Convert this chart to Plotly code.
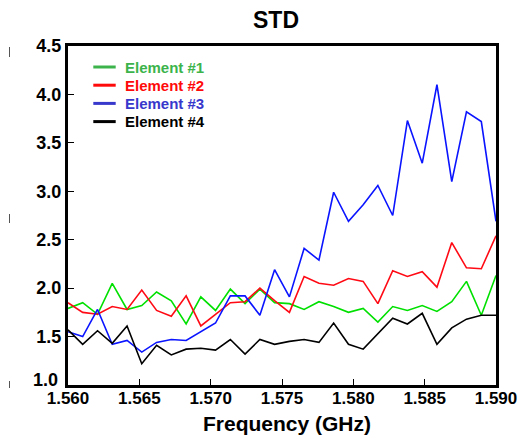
import plotly.graph_objects as go

freq = [1.56000, 1.56103, 1.56207, 1.56310, 1.56414, 1.56517, 1.56621, 1.56724,
        1.56828, 1.56931, 1.57034, 1.57138, 1.57241, 1.57345, 1.57448, 1.57552,
        1.57655, 1.57759, 1.57862, 1.57966, 1.58069, 1.58172, 1.58276, 1.58379,
        1.58483, 1.58586, 1.58690, 1.58793, 1.58897, 1.59000]

element1 = [1.79, 1.85, 1.73, 2.05, 1.78, 1.82, 1.96, 1.87, 1.63, 1.91,
            1.77, 1.99, 1.84, 1.99, 1.85, 1.84, 1.78, 1.86, 1.81, 1.75,
            1.79, 1.65, 1.81, 1.77, 1.82, 1.76, 1.86, 2.07, 1.72, 2.13]
element2 = [1.85, 1.75, 1.73, 1.81, 1.78, 1.98, 1.77, 1.71, 1.92, 1.61,
            1.73, 1.85, 1.86, 2.00, 1.87, 1.75, 2.12, 2.05, 2.03, 2.10,
            2.07, 1.84, 2.18, 2.12, 2.17, 2.01, 2.47, 2.21, 2.20, 2.54]
element3 = [1.55, 1.50, 1.78, 1.42, 1.46, 1.34, 1.44, 1.47, 1.46, 1.55,
            1.64, 1.92, 1.92, 1.72, 2.19, 1.91, 2.41, 2.29, 2.99, 2.69,
            2.86, 3.06, 2.75, 3.73, 3.29, 4.10, 3.10, 3.82, 3.72, 2.69]
element4 = [1.57, 1.42, 1.56, 1.43, 1.61, 1.22, 1.41, 1.31, 1.37, 1.38,
            1.36, 1.47, 1.32, 1.47, 1.42, 1.45, 1.47, 1.44, 1.64, 1.42,
            1.37, 1.53, 1.69, 1.63, 1.74, 1.42, 1.59, 1.68, 1.72, 1.72]

names = ["Element #1", "Element #2", "Element #3", "Element #4"]
series = [element1, element2, element3, element4]
line_colors = ["#00e000", "#ff0a14", "#0a14ff", "#000000"]
legend_colors = ["#3cb44b", "#ff0a0a", "#3838cc", "#000000"]

x_ticks = [1.560, 1.565, 1.570, 1.575, 1.580, 1.585, 1.590]
x_ticktext = ["1.560", "1.565", "1.570", "1.575", "1.580", "1.585", "1.590"]
y_ticks = [1.0, 1.5, 2.0, 2.5, 3.0, 3.5, 4.0, 4.5]
y_ticktext = ["1.0", "1.5", "2.0", "2.5", "3.0", "3.5", "4.0", "4.5"]

FONT = "Arial, 'Liberation Sans', sans-serif"

W, H = 520, 442
ML, MR, MT, MB = 68, 24, 46, 57
PW, PH = W - ML - MR, H - MT - MB


def px(xp):
    return (xp - ML) / PW


def py(yp):
    return (H - MB - yp) / PH


fig = go.Figure()
for vals, c, n in zip(series, line_colors, names):
    fig.add_trace(go.Scatter(x=freq, y=vals, mode="lines", name=n,
                             line=dict(color=c, width=1.6),
                             showlegend=False))

# legend drawn as line samples + coloured labels
row_y = [67, 85.2, 103.4, 121.6]
for n, lc, ry in zip(names, legend_colors, row_y):
    fig.add_shape(type="line", xref="paper", yref="paper",
                  x0=px(93.3), x1=px(115.7), y0=py(ry), y1=py(ry),
                  line=dict(color=lc, width=3))
    fig.add_annotation(xref="paper", yref="paper", x=px(123), y=py(ry),
                       xanchor="left", yanchor="middle", showarrow=False,
                       text=f"<b>{n}</b>",
                       font=dict(size=15, family=FONT, color=lc))

fig.update_layout(
    width=W, height=H,
    margin=dict(l=ML, r=MR, t=MT, b=MB),
    paper_bgcolor="white", plot_bgcolor="white",
    font=dict(family=FONT, color="black"),
    title=dict(text="<b>STD</b>", xref="container", yref="container",
               x=276 / W, xanchor="center", y=1 - 20 / H, yanchor="middle",
               font=dict(size=23, family=FONT, color="black")),
    showlegend=False,
)
fig.add_annotation(xref="paper", yref="paper", x=px(287), y=py(423),
                   xanchor="center", yanchor="middle", showarrow=False,
                   text="<b>Frequency (GHz)</b>",
                   font=dict(size=21, family=FONT, color="black"))

# the bottom y label sits a little higher than its tick in the original
y_labels_axis = [t if i > 0 else "" for i, t in enumerate(y_ticktext)]
fig.add_annotation(xref="paper", yref="paper", x=px(59.5), y=py(380),
                   xanchor="right", yanchor="middle", showarrow=False,
                   text=f"<b>{y_ticktext[0]}</b>",
                   font=dict(size=18, family=FONT, color="black"))

fig.update_xaxes(range=[1.560, 1.590], tickvals=x_ticks, ticktext=x_ticktext,
                 showgrid=False, zeroline=False, automargin=False,
                 showline=True, linecolor="black", linewidth=3, mirror=True,
                 ticks="inside", ticklen=6, tickwidth=1.2, tickcolor="black",
                 ticklabelstandoff=-4,
                 tickfont=dict(size=17, family=FONT, color="black", weight="bold"))
fig.update_yaxes(range=[1.0, 4.5], tickvals=y_ticks, ticktext=y_labels_axis,
                 showgrid=False, zeroline=False, automargin=False,
                 showline=True, linecolor="black", linewidth=3, mirror=True,
                 ticks="inside", ticklen=6, tickwidth=1.2, tickcolor="black",
                 tickfont=dict(size=18, family=FONT, color="black", weight="bold"))

# small stray marks on the far left of the original image
for y0, y1, dash in [(47, 57, "solid"), (207, 223, "dash"), (381, 388, "solid")]:
    fig.add_shape(type="line", xref="paper", yref="paper",
                  x0=px(9.5), x1=px(9.5), y0=py(y1), y1=py(y0),
                  line=dict(color="#555555", width=1, dash=dash))

fig.write_html("out.html", config={"displayModeBar": False},
               post_script="document.body.style.margin='0';document.body.style.padding='0';")
